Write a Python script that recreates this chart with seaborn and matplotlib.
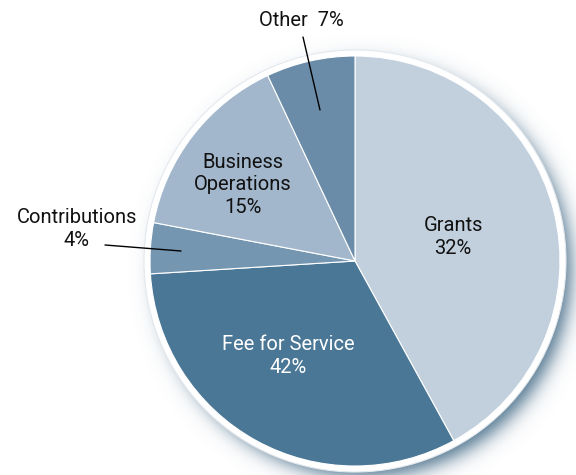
import numpy as np
import seaborn as sns
import matplotlib.pyplot as plt

plt.switch_backend("Agg")

categories = ["Grants", "Fee for Service", "Contributions", "Business\nOperations", "Other"]
# wedge sizes as drawn in the picture
wedge_sizes = [42, 32, 4, 15, 7]
# percentages as printed on the labels
label_pct = [32, 42, 4, 15, 7]
colors = ["#c2d0dd", "#4b7796", "#7596b0", "#a2b7cb", "#6a8ca8"]

sns.set_style("white")
plt.rcParams["font.family"] = ["Roboto", "DejaVu Sans"]

W, H = 576, 475
fig = plt.figure(figsize=(W / 100, H / 100), dpi=100)
ax = fig.add_axes([0, 0, 1, 1])

cx, cy, r = 355, H - 261, 205

# soft drop shadow behind the pie
xx, yy = np.meshgrid(np.arange(W) + 0.5, np.arange(H) + 0.5)
d = np.hypot(xx - (cx + 9), (H - yy) - (cy - 9))
alpha = 0.95 / (1 + np.exp((d - 207) / 5.5))
shadow = np.zeros((H, W, 4))
shadow[..., 0] = 70 / 255
shadow[..., 1] = 108 / 255
shadow[..., 2] = 136 / 255
shadow[..., 3] = alpha
ax.imshow(shadow, extent=(0, W, 0, H), origin="upper", zorder=0)

# white rim
ax.add_patch(plt.Circle((cx, cy), r + 6, facecolor="white", edgecolor="#e4e9ee", lw=0.8, zorder=1))

wedges, _ = ax.pie(wedge_sizes, colors=colors, startangle=90, counterclock=False,
                   center=(cx, cy), radius=r,
                   wedgeprops=dict(edgecolor="white", linewidth=0.8))
for w in wedges:
    w.set_zorder(2)

fs = 14.5
ls = 1.22
ax.text(453, H - 237, f"{categories[0]}\n{label_pct[0]}%", ha="center", va="center",
        fontsize=fs, linespacing=ls, color="#111111", zorder=3)
ax.text(288, H - 356, f"{categories[1]}\n{label_pct[1]}%", ha="center", va="center",
        fontsize=fs, linespacing=ls, color="white", zorder=3)
ax.text(77, H - 229, f"{categories[2]}\n{label_pct[2]}%", ha="center", va="center",
        fontsize=fs, linespacing=ls, color="#111111", zorder=3)
ax.text(243, H - 185, f"{categories[3]}\n{label_pct[3]}%", ha="center", va="center",
        fontsize=fs, linespacing=ls, color="#111111", zorder=3)
ax.text(301, H - 20, f"{categories[4]}  {label_pct[4]}%", ha="center", va="center",
        fontsize=fs, color="#111111", zorder=3)

# leader lines
ax.plot([105, 181], [H - 245, H - 251], color="black", lw=1, zorder=3)
ax.plot([303, 320], [H - 37, H - 110], color="black", lw=1, zorder=3)

ax.set_xlim(0, W)
ax.set_ylim(0, H)
ax.set_aspect("equal")
ax.axis("off")

fig.savefig("out.png", dpi=100)
